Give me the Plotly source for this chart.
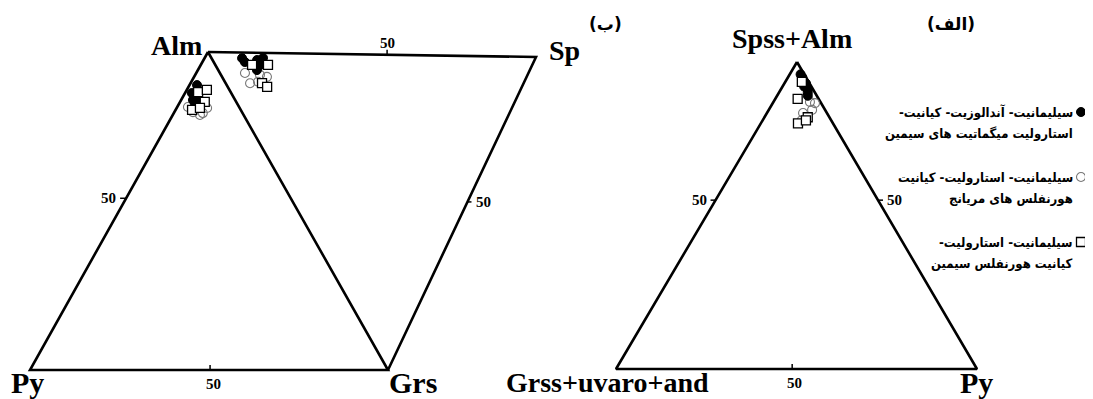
import plotly.graph_objects as go

# ---------------- DATA (percent compositions) ----------------
# Diagram (ب): Alm - Py - Grs triangle  (Alm, Py, Grs)
b1_filled = {"Alm": [89.6, 87.1, 86.5, 84.9, 84.3, 83.3],
             "Py":  [8.3, 11.0, 9.6, 11.8, 10.1, 12.0],
             "Grs": [2.1, 1.9, 3.9, 3.3, 5.6, 4.7]}
b1_square = {"Alm": [87.4, 88.1, 84.3, 81.8, 82.4],
             "Py":  [9.1, 6.3, 8.8, 13.6, 11.1],
             "Grs": [3.5, 5.6, 6.9, 4.6, 6.5]}
b1_open = {"Alm": [82.7, 81.1, 80.8, 82.4, 80.2],
           "Py":  [14.3, 13.7, 11.1, 9.1, 12.2],
           "Grs": [3.0, 5.2, 8.1, 8.5, 7.6]}
# Diagram (ب): Alm - Sp - Grs triangle  (Alm, Sp, Grs)
b2_filled = {"Alm": [88.8, 87.4, 84.0, 82.4, 82.5, 82.6],
             "Sp":  [9.4, 9.6, 13.7, 13.7, 15.9, 11.9],
             "Grs": [1.8, 3.0, 2.3, 3.9, 1.6, 5.5]}
b2_square = {"Alm": [84.8, 80.0, 79.2, 77.1],
             "Sp":  [11.3, 16.2, 11.2, 12.1],
             "Grs": [3.9, 3.8, 9.6, 10.8]}
b2_open = {"Alm": [85.8, 82.8, 81.0, 78.6, 80.6],
           "Sp":  [7.7, 7.5, 12.0, 13.8, 10.2],
           "Grs": [6.5, 9.7, 7.0, 7.6, 9.2]}
# Diagram (الف): Spss+Alm - Grss+uvaro+and - Py
a_filled = {"SpAlm": [96.0, 95.0, 94.0, 93.0, 92.0, 91.0, 90.0, 89.0],
            "Grss":  [1.0, 1.0, 1.5, 1.0, 2.0, 1.5, 2.0, 2.5],
            "Py":    [3.0, 4.0, 4.5, 6.0, 6.0, 7.5, 8.0, 8.5]}
a_square = {"SpAlm": [93.5, 88.0, 82.0, 80.0, 81.0],
            "Grss":  [1.9, 5.8, 6.0, 9.7, 7.0],
            "Py":    [4.6, 6.2, 12.0, 10.3, 12.0]}
a_open = {"SpAlm": [87.0, 86.6, 83.4, 84.4, 81.0],
          "Grss":  [2.9, 1.7, 6.6, 3.6, 8.2],
          "Py":    [10.1, 11.7, 10.0, 12.0, 10.8]}

tick_label = "50"
vertex_labels_b = ["Alm", "Py", "Grs", "Sp"]
vertex_labels_a = ["Spss+Alm", "Grss+uvaro+and", "Py"]
panel_labels = ["(ب)", "(الف)"]
RLM = "\u200f"
legend_lines = [
    ["سیلیمانیت- آندالوزیت- کیانیت-", "استارولیت میگماتیت های سیمین"],
    ["سیلیمانیت- استارولیت- کیانیت", "هورنفلس های مریانج"],
    ["سیلیمانیت- استارولیت-", "کیانیت هورنفلس سیمین"],
]

# ---------------- GEOMETRY (layout frame, pixel space) ----------------
ALM = (208, 52); PY_L = (30, 370); GRS = (388, 370); SP = (536, 57)
TOP_A = (797, 62); BL_A = (616, 369); BR_A = (977, 369)
PAGE_OFF = 8  # default page margin around the plot div


def bary(verts, comps):
    """Map compositions (lists of percents, one per vertex) to x, y."""
    xs, ys = [], []
    for vals in zip(*comps):
        s = sum(vals)
        x = sum(v * p[0] for v, p in zip(vals, verts)) / s
        y = sum(v * p[1] for v, p in zip(vals, verts)) / s
        xs.append(x); ys.append(y)
    return xs, ys


def lerp(p, q, f):
    return (p[0] + (q[0] - p[0]) * f, p[1] + (q[1] - p[1]) * f)


fig = go.Figure()

# frame lines
frame = [
    [ALM, PY_L, GRS, ALM],
    [ALM, SP, GRS],
    [TOP_A, BL_A, BR_A, TOP_A],
]
for poly in frame:
    fig.add_trace(go.Scatter(x=[p[0] for p in poly], y=[p[1] for p in poly],
                             mode="lines", line=dict(color="black", width=2.6),
                             hoverinfo="skip", showlegend=False))

filled_style = dict(symbol="circle", size=9, color="black", line=dict(color="black", width=1))
open_style = dict(symbol="circle-open", size=9, color="#777777", line=dict(width=1.1))
square_style = dict(symbol="square", size=9, color="white", line=dict(color="black", width=1.3))

sets = [
    (b1_open, [ALM, PY_L, GRS], ["Alm", "Py", "Grs"], open_style),
    (b2_open, [ALM, SP, GRS], ["Alm", "Sp", "Grs"], open_style),
    (a_open, [TOP_A, BL_A, BR_A], ["SpAlm", "Grss", "Py"], open_style),
    (b1_filled, [ALM, PY_L, GRS], ["Alm", "Py", "Grs"], filled_style),
    (b2_filled, [ALM, SP, GRS], ["Alm", "Sp", "Grs"], filled_style),
    (a_filled, [TOP_A, BL_A, BR_A], ["SpAlm", "Grss", "Py"], filled_style),
    (b1_square, [ALM, PY_L, GRS], ["Alm", "Py", "Grs"], square_style),
    (b2_square, [ALM, SP, GRS], ["Alm", "Sp", "Grs"], square_style),
    (a_square, [TOP_A, BL_A, BR_A], ["SpAlm", "Grss", "Py"], square_style),
]
for data, verts, keys, style in sets:
    xs, ys = bary(verts, [data[k] for k in keys])
    fig.add_trace(go.Scatter(x=xs, y=ys, mode="markers", marker=style,
                             hoverinfo="skip", showlegend=False))

# ticks at "50" positions on edges: (p, q, fraction, tick dx, tick dy, label dx, label dy)
ticks = [
    (PY_L, GRS, 0.503, 0, -5, 3, 14),
    (ALM, PY_L, 0.46, -6, 0, -18, 0),
    (ALM, SP, 0.546, 0, -5, 0, -12),
    (SP, GRS, 0.463, 4, 0, 16, 0),
    (BL_A, BR_A, 0.488, 0, -5, 2, 14),
    (TOP_A, BL_A, 0.45, -5, 0, -16, 0),
    (TOP_A, BR_A, 0.45, 5, 0, 16, 0),
]
shapes = []
annotations = []
for p, q, f, tdx, tdy, ldx, ldy in ticks:
    m = lerp(p, q, f)
    shapes.append(dict(type="line", xref="x", yref="y", x0=m[0], y0=m[1],
                       x1=m[0] + tdx, y1=m[1] + tdy, line=dict(color="black", width=1.5)))
    annotations.append(dict(x=m[0] + ldx, y=m[1] + ldy, text="<b>%s</b>" % tick_label,
                            showarrow=False, xref="x", yref="y",
                            font=dict(family="Liberation Serif", size=15, color="black")))

label_pos = [
    (vertex_labels_b[0], 176, 45, 28),
    (vertex_labels_b[1], 27, 382, 30),
    (vertex_labels_b[2], 413, 382, 30),
    (vertex_labels_b[3], 564, 50, 28),
    (vertex_labels_a[0], 792, 38, 28),
    (vertex_labels_a[1], 607, 382, 28),
    (vertex_labels_a[2], 976, 382, 30),
]
for t, x, y, sz in label_pos:
    annotations.append(dict(x=x, y=y, text="<b>%s</b>" % t, showarrow=False, xref="x", yref="y",
                            font=dict(family="Liberation Serif", size=sz, color="black")))

for t, x in zip(panel_labels, [605, 951]):
    annotations.append(dict(x=x, y=24, text="<b>%s</b>" % t, showarrow=False, xref="x", yref="y",
                            font=dict(family="DejaVu Sans", size=17, color="black")))

# legend
leg_y = [112, 177, 242]
leg_style = [filled_style, open_style, square_style]
leg_font = dict(family="DejaVu Sans Condensed, DejaVu Sans", size=13, color="black")
for (l1, l2), y, st in zip(legend_lines, leg_y, leg_style):
    fig.add_trace(go.Scatter(x=[1081], y=[y], mode="markers", marker=st, cliponaxis=False,
                             hoverinfo="skip", showlegend=False))
    annotations.append(dict(x=1075, y=y, text="<b>%s</b>" % (RLM + l1 + RLM), showarrow=False,
                            xref="x", yref="y", xanchor="right", font=leg_font))
    annotations.append(dict(x=1075, y=y + 21, text="<b>%s</b>" % (RLM + l2 + RLM), showarrow=False,
                            xref="x", yref="y", xanchor="right", font=leg_font))

fig.update_layout(
    width=1093 - PAGE_OFF, height=399 - PAGE_OFF, autosize=False,
    margin=dict(l=0, r=0, t=0, b=0),
    paper_bgcolor="white", plot_bgcolor="white",
    xaxis=dict(range=[PAGE_OFF, 1093], visible=False, fixedrange=True),
    yaxis=dict(range=[399, PAGE_OFF], visible=False, fixedrange=True),
    shapes=shapes, annotations=annotations,
)
fig.write_html("out.html")
